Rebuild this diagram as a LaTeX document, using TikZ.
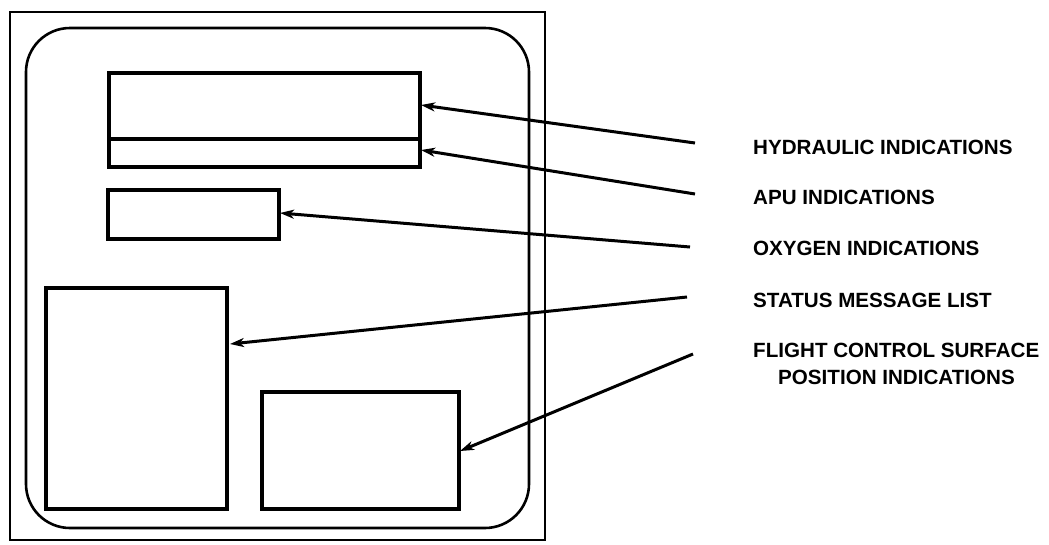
\documentclass[tikz,border=0pt]{standalone}
\usepackage{fontspec}
\setmainfont{Liberation Sans}
\usetikzlibrary{arrows.meta}
\begin{document}
\begin{tikzpicture}[x=1pt,y=-1pt,
  frame/.style={draw=black,line width=2.6pt},
  panel/.style={draw=black,line width=3.2pt},
  lbl/.style={anchor=west,inner sep=0pt,font=\fontsize{20.6}{23}\selectfont\bfseries},
  pointer/.style={draw=black,line width=3pt,-{Stealth[length=14pt,width=9pt,inset=4pt]}}]
\useasboundingbox[fill=white] (0,0) rectangle (1049,544);
% outer frame and bezel
\draw[frame] (10,12) rectangle (545,540);
\draw[frame,rounded corners=44pt] (26,28) rectangle (529,528);
% display areas
\draw[panel] (109,73) rectangle (420,167);
\draw[panel] (109,139) -- (420,139);
\draw[panel] (108,190) rectangle (279,239);
\draw[panel] (46,288) rectangle (227,509);
\draw[panel] (262,392) rectangle (459,509);
% labels
\node[lbl] (hyd) at (753,147) {HYDRAULIC INDICATIONS};
\node[lbl] (apu) at (753,197) {APU INDICATIONS};
\node[lbl] (oxy) at (753,248) {OXYGEN INDICATIONS};
\node[lbl] (sts) at (753,300) {STATUS MESSAGE LIST};
\node[lbl] (fcs) at (753,350) {FLIGHT CONTROL SURFACE};
\node[lbl] (fcs2) at (778,377) {POSITION INDICATIONS};
% arrow ends
\coordinate (hydS) at (695,143); \coordinate (hydT) at (421,105);
\coordinate (apuS) at (695,194); \coordinate (apuT) at (421,150);
\coordinate (oxyS) at (690,247); \coordinate (oxyT) at (280,213);
\coordinate (stsS) at (687,297); \coordinate (stsT) at (230,344);
\coordinate (fcsS) at (693,354); \coordinate (fcsT) at (460,451);
\draw[pointer] (hydS) -- (hydT);
\draw[pointer] (apuS) -- (apuT);
\draw[pointer] (oxyS) -- (oxyT);
\draw[pointer] (stsS) -- (stsT);
\draw[pointer] (fcsS) -- (fcsT);
\end{tikzpicture}
\end{document}
